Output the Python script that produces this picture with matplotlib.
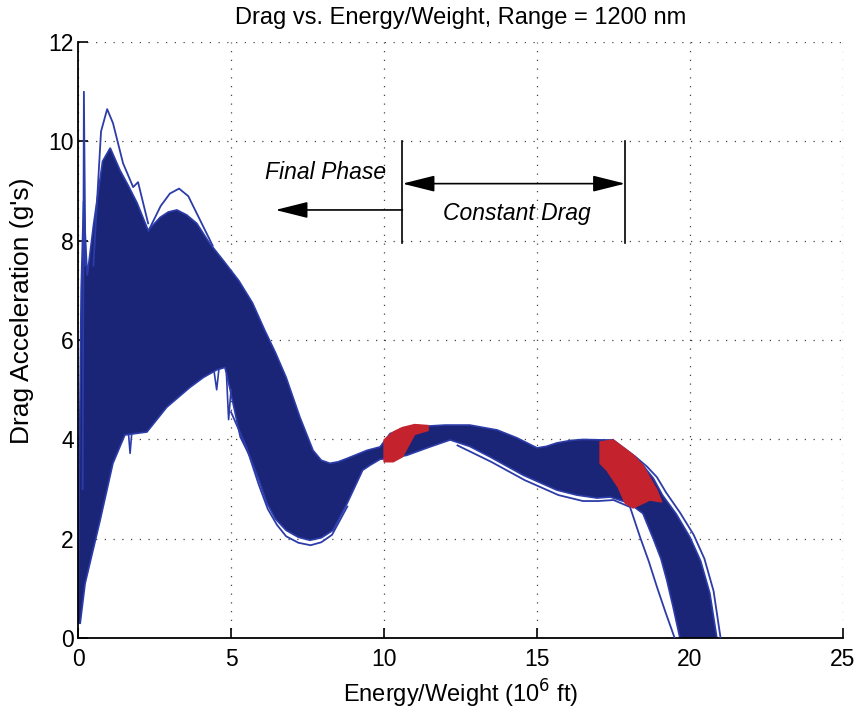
import matplotlib
matplotlib.use("Agg")
from matplotlib import pyplot as plt

# envelope of the monte-carlo drag profiles
upper_x = [0.0, 0.05, 0.1, 0.18, 0.3, 0.5, 0.8, 1.05, 1.37, 1.65, 1.93, 2.29,
           2.68, 2.95, 3.23, 3.55, 3.88, 4.3, 4.75, 5.25, 5.7, 6.1, 6.45, 6.8,
           7.25, 7.68, 7.95, 8.23, 8.5, 8.8, 9.44, 9.87, 10.2, 10.7, 11.18,
           12.0, 12.8, 13.7, 14.35, 15.0, 15.3, 15.65, 16.1, 16.5, 17.16,
           17.49, 18.14, 18.46, 18.8, 19.1, 19.55, 20.0, 20.35, 20.65, 20.88]
upper_y = [0.3, 4.0, 7.0, 8.8, 7.3, 8.3, 9.6, 9.87, 9.42, 9.1, 8.76, 8.21,
           8.47, 8.58, 8.62, 8.52, 8.35, 7.95, 7.6, 7.2, 6.75, 6.2, 5.75, 5.25,
           4.45, 3.78, 3.58, 3.52, 3.55, 3.62, 3.78, 3.85, 4.12, 4.2, 4.26,
           4.29, 4.29, 4.19, 4.03, 3.83, 3.86, 3.93, 3.98, 4.0, 3.99,
           3.99, 3.69, 3.48, 3.22, 2.88, 2.5, 2.03, 1.55, 0.9, 0.0]
lower_x = [0.0, 0.07, 0.23, 0.72, 1.14, 1.53, 2.25, 2.9, 3.66, 4.1, 4.53, 4.8,
           4.97, 5.3, 5.62, 5.9, 6.17, 6.45, 6.8, 7.2, 7.58, 7.95, 8.33, 8.8,
           9.3, 9.54, 9.87, 10.3, 10.74, 11.5, 12.16, 12.8, 13.46, 14.55,
           15.65, 16.3, 16.96, 17.39, 18.0, 18.46, 18.8, 19.05, 19.24, 19.45,
           19.67]
lower_y = [0.3, 0.3, 1.1, 2.37, 3.52, 4.09, 4.15, 4.65, 5.05, 5.25, 5.4, 5.45,
           5.0, 4.05, 3.65, 3.2, 2.72, 2.4, 2.17, 2.03, 1.97, 2.02, 2.17, 2.72,
           3.38, 3.48, 3.6, 3.63, 3.68, 3.85, 3.99, 3.86, 3.65, 3.28,
           2.98, 2.88, 2.82, 2.84, 2.72, 2.51, 2.0, 1.6, 1.17, 0.62,
           0.0]

# a few stray trajectories outside the main band
spike_x = [0.15, 0.19, 0.24]
spike_y = [3.0, 11.0, 7.5]
peak1_x = [0.5, 0.75, 0.95, 1.14, 1.47, 1.8, 1.96, 2.29]
peak1_y = [7.5, 10.2, 10.65, 10.37, 9.56, 9.08, 9.18, 8.35]
peak2_x = [2.3, 2.7, 3.0, 3.3, 3.6, 4.0, 4.4]
peak2_y = [8.2, 8.7, 8.95, 9.05, 8.9, 8.4, 7.9]
dip_x = [5.0, 5.5, 5.9, 6.2, 6.5, 6.8, 7.2, 7.6, 7.95, 8.3, 8.8]
dip_y = [4.55, 3.85, 3.1, 2.6, 2.28, 2.05, 1.92, 1.87, 1.93, 2.08, 2.65]
low_x = [12.4, 13.5, 14.6, 15.7, 16.5, 17.0, 17.5, 18.04, 18.37, 18.65,
         18.92, 19.2, 19.5]
low_y = [3.88, 3.55, 3.18, 2.88, 2.76, 2.76, 2.78, 2.64, 2.03, 1.55,
         1.03, 0.52, 0.0]
outer_x = [18.2, 18.6, 18.92, 19.22, 19.67, 20.12, 20.47, 20.77, 21.0]
outer_y = [3.66, 3.45, 3.24, 2.93, 2.53, 2.08, 1.6, 0.95, 0.0]
notch_x = [[1.65, 1.7, 1.75], [4.45, 4.53, 4.6], [4.85, 4.92, 5.0]]
notch_y = [[4.1, 3.72, 4.1], [5.35, 5.0, 5.4], [5.3, 4.4, 5.0]]

# start / end of the constant drag phase
red1_x = [10.0, 10.3, 10.6, 11.0, 11.44, 11.44, 11.0, 10.6, 10.3, 10.0]
red1_y = [3.99, 4.15, 4.24, 4.3, 4.28, 4.18, 4.1, 3.65, 3.55, 3.55]
red2_x = [17.06, 17.49, 18.14, 18.46, 18.92, 19.08, 18.69, 18.14, 17.88,
          17.65, 17.28, 17.06]
red2_y = [3.95, 3.99, 3.69, 3.48, 2.98, 2.74, 2.78, 2.62, 2.72,
          3.04, 3.38, 3.52]

navy = '#1b2577'
edge = '#2c3ca8'
red = '#c4232e'
font = 'Liberation Sans'

fig = plt.figure(figsize=(8.58, 7.13), dpi=100)
ax = fig.add_axes([0.091, 0.105, 0.8915, 0.836])

band_x = upper_x + lower_x[::-1]
band_y = upper_y + lower_y[::-1]
ax.fill(band_x, band_y, facecolor=navy, edgecolor=edge, linewidth=1.2, zorder=2)

for xs, ys in [(spike_x, spike_y), (peak1_x, peak1_y), (peak2_x, peak2_y),
               (dip_x, dip_y), (low_x, low_y), (outer_x, outer_y)]:
    ax.plot(xs, ys, color=edge, linewidth=1.3, zorder=3)
for xs, ys in zip(notch_x, notch_y):
    ax.plot(xs, ys, color=edge, linewidth=1.2, zorder=3)

ax.fill(red1_x, red1_y, facecolor=red, edgecolor=red, linewidth=1, zorder=4)
ax.fill(red2_x, red2_y, facecolor=red, edgecolor=red, linewidth=1, zorder=4)

# annotation for phases
ax.plot([10.6, 10.6], [7.95, 10.0], color='black', linewidth=1.2)
ax.plot([17.88, 17.88], [7.95, 10.0], color='black', linewidth=1.2)
ax.annotate('', xy=(10.6, 9.15), xytext=(17.88, 9.15),
            arrowprops=dict(arrowstyle='<|-|>,head_length=1.0,head_width=0.25',
                            color='black', lw=1.2, mutation_scale=20,
                            shrinkA=0, shrinkB=0))
ax.annotate('', xy=(6.45, 8.62), xytext=(10.6, 8.62),
            arrowprops=dict(arrowstyle='-|>,head_length=1.0,head_width=0.25',
                            color='black', lw=1.2, mutation_scale=20,
                            shrinkA=0, shrinkB=0))
ax.text(8.1, 9.38, 'Final Phase', style='italic', family=font, fontsize=16.5,
        ha='center', va='center')
ax.text(14.35, 8.55, 'Constant Drag', style='italic', family=font, fontsize=16.5,
        ha='center', va='center')

ax.set_xlim(0, 25)
ax.set_ylim(0, 12)
ax.set_xticks([0, 5, 10, 15, 20, 25])
ax.set_yticks([0, 2, 4, 6, 8, 10, 12])
ax.grid(True, color='#444444', linestyle=(0, (1, 6)), linewidth=0.9)
ax.set_axisbelow(True)
ax.spines['top'].set_visible(False)
ax.spines['right'].set_visible(False)
ax.spines['left'].set_linewidth(1.3)
ax.spines['bottom'].set_linewidth(1.3)
ax.tick_params(direction='in', length=7, width=1.2, labelsize=16.5)
ax.tick_params(axis='x', pad=7)
ax.tick_params(axis='y', pad=3)
for lab in ax.get_xticklabels() + ax.get_yticklabels():
    lab.set_family(font)

ax.set_title('Drag vs. Energy/Weight, Range = 1200 nm', family=font,
             fontsize=17, pad=13)
ax.set_xlabel('Energy/Weight (10$^6$ ft)', family=font, fontsize=17, labelpad=5)
ax.set_ylabel("Drag Acceleration (g's)", family=font, fontsize=19)
ax.yaxis.set_label_coords(-0.057, 0.55)

plt.savefig('out.png', dpi=100)
